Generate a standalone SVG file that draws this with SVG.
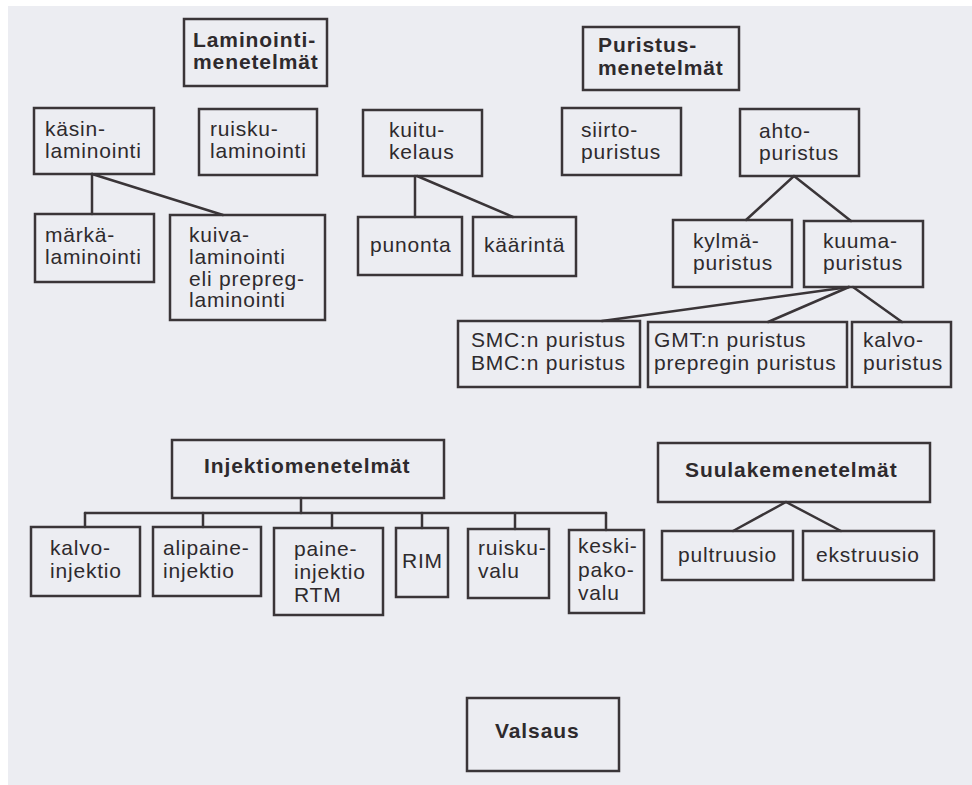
<svg xmlns="http://www.w3.org/2000/svg" width="972" height="785" viewBox="0 0 972 785">
<style>
.b{fill:none;stroke:#3a3538;stroke-width:2.5}
.c line{stroke:#3a3538;stroke-width:2.5;stroke-linecap:round}
text{font-family:"Liberation Sans",Arial,sans-serif;font-size:21px;letter-spacing:0.8px;fill:#2e2a2d}
.h{font-weight:bold;font-size:21px;letter-spacing:0.9px}
</style>
<rect x="0" y="0" width="972" height="785" fill="#ffffff"/>
<rect x="8" y="6" width="964" height="779" fill="#ecedf2"/>
<g class="c" id="connectors">
<line x1="92" y1="174" x2="92" y2="214"/>
<line x1="92" y1="174" x2="223" y2="215"/>
<line x1="415" y1="176" x2="415" y2="217"/>
<line x1="417" y1="176" x2="513" y2="217"/>
<line x1="794" y1="176" x2="746" y2="220"/>
<line x1="794" y1="176" x2="851" y2="221"/>
<line x1="849" y1="287" x2="602" y2="321"/>
<line x1="849" y1="287" x2="768" y2="322"/>
<line x1="853" y1="287" x2="902" y2="322"/>
<line x1="301" y1="498" x2="301" y2="513"/>
<line x1="85" y1="513" x2="606" y2="513"/>
<line x1="85" y1="513" x2="85" y2="527"/>
<line x1="203" y1="513" x2="203" y2="527"/>
<line x1="332" y1="513" x2="332" y2="528"/>
<line x1="422" y1="513" x2="422" y2="528"/>
<line x1="515" y1="513" x2="515" y2="529"/>
<line x1="606" y1="513" x2="606" y2="530"/>
<line x1="786" y1="502" x2="733" y2="531"/>
<line x1="786" y1="502" x2="841" y2="531"/>
</g>
<g id="laminointi"><rect class="b" x="184" y="19" width="143" height="67"/><text class="h" x="193" y="47">Laminointi-</text><text class="h" x="193" y="69">menetelmät</text></g>
<g id="puristus"><rect class="b" x="583" y="27" width="156" height="63"/><text class="h" x="598" y="52">Puristus-</text><text class="h" x="598" y="75">menetelmät</text></g>
<g id="kasin"><rect class="b" x="34" y="108" width="120" height="66"/><text x="45" y="136">käsin-</text><text x="45" y="158">laminointi</text></g>
<g id="ruiskulam"><rect class="b" x="199" y="109" width="118" height="66"/><text x="210" y="136">ruisku-</text><text x="210" y="158">laminointi</text></g>
<g id="kuitu"><rect class="b" x="363" y="110" width="119" height="66"/><text x="389" y="137">kuitu-</text><text x="389" y="159">kelaus</text></g>
<g id="siirto"><rect class="b" x="562" y="108" width="119" height="67"/><text x="581" y="137">siirto-</text><text x="581" y="159">puristus</text></g>
<g id="ahto"><rect class="b" x="740" y="109" width="119" height="67"/><text x="759" y="138">ahto-</text><text x="759" y="160">puristus</text></g>
<g id="marka"><rect class="b" x="35" y="214" width="119" height="68"/><text x="45" y="242">märkä-</text><text x="45" y="264">laminointi</text></g>
<g id="kuiva"><rect class="b" x="170" y="215" width="155" height="105"/><text x="189" y="242">kuiva-</text><text x="189" y="264">laminointi</text><text x="189" y="286">eli prepreg-</text><text x="189" y="307">laminointi</text></g>
<g id="punonta"><rect class="b" x="358" y="217" width="104" height="58"/><text x="370" y="252">punonta</text></g>
<g id="kaarinta"><rect class="b" x="473" y="217" width="103" height="59"/><text x="484" y="252">käärintä</text></g>
<g id="kylma"><rect class="b" x="673" y="220" width="119" height="67"/><text x="693" y="248">kylmä-</text><text x="693" y="270">puristus</text></g>
<g id="kuuma"><rect class="b" x="804" y="221" width="119" height="66"/><text x="823" y="248">kuuma-</text><text x="823" y="270">puristus</text></g>
<g id="smc"><rect class="b" x="458" y="321" width="182" height="66"/><text x="471" y="347">SMC:n puristus</text><text x="471" y="370">BMC:n puristus</text></g>
<g id="gmt"><rect class="b" x="648" y="322" width="199" height="65"/><text x="654" y="347">GMT:n puristus</text><text x="654" y="370">prepregin puristus</text></g>
<g id="kalvopuristus"><rect class="b" x="852" y="322" width="99" height="65"/><text x="863" y="347">kalvo-</text><text x="863" y="370">puristus</text></g>
<g id="injektio"><rect class="b" x="172" y="440" width="272" height="58"/><text class="h" x="204" y="473">Injektiomenetelmät</text></g>
<g id="suulake"><rect class="b" x="658" y="443" width="272" height="59"/><text class="h" x="685" y="477">Suulakemenetelmät</text></g>
<g id="kalvoinjektio"><rect class="b" x="31" y="527" width="109" height="69"/><text x="50" y="555">kalvo-</text><text x="50" y="578">injektio</text></g>
<g id="alipaine"><rect class="b" x="153" y="527" width="108" height="69"/><text x="163" y="555">alipaine-</text><text x="163" y="578">injektio</text></g>
<g id="paine"><rect class="b" x="274" y="528" width="109" height="87"/><text x="294" y="556">paine-</text><text x="294" y="579">injektio</text><text x="294" y="602">RTM</text></g>
<g id="rim"><rect class="b" x="396" y="528" width="52" height="69"/><text x="402" y="568">RIM</text></g>
<g id="ruiskuvalu"><rect class="b" x="468" y="529" width="81" height="69"/><text x="478" y="555">ruisku-</text><text x="478" y="578">valu</text></g>
<g id="keski"><rect class="b" x="569" y="530" width="75" height="83"/><text x="578" y="553">keski-</text><text x="578" y="577">pako-</text><text x="578" y="600">valu</text></g>
<g id="pultruusio"><rect class="b" x="662" y="531" width="131" height="49"/><text x="678" y="562">pultruusio</text></g>
<g id="ekstruusio"><rect class="b" x="803" y="531" width="131" height="49"/><text x="816" y="562">ekstruusio</text></g>
<g id="valsaus"><rect class="b" x="467" y="698" width="152" height="73"/><text class="h" x="495" y="738">Valsaus</text></g>
</svg>
